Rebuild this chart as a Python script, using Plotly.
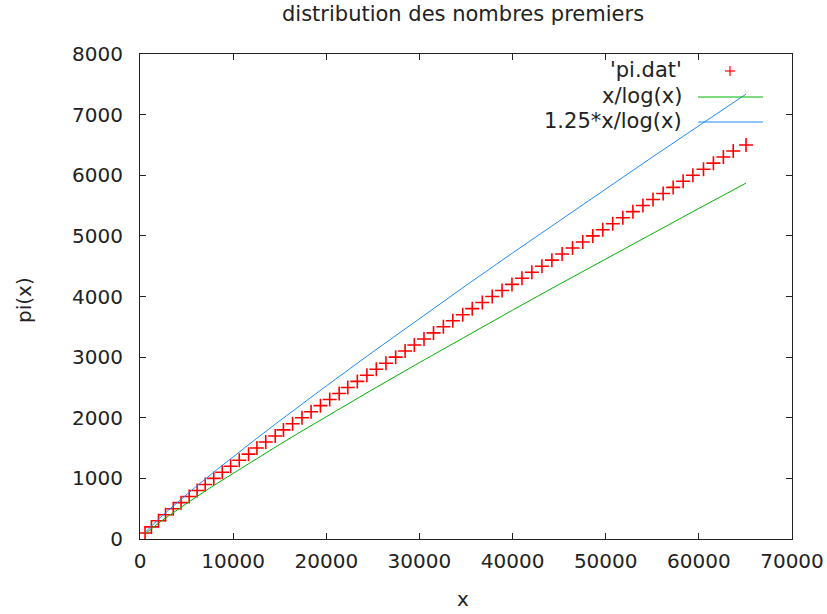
import plotly.graph_objects as go

# 'pi.dat' : (x, pi(x)) points
pi_x = [541, 1223, 1987, 2741, 3571, 4409, 5279, 6133, 6997, 7919,
        8831, 9733, 10657, 11657, 12553, 13499, 14519, 15401, 16381, 17389,
        18367, 19373, 20369, 21383, 22307, 23333, 24359, 25373, 26407, 27449,
        28463, 29453, 30491, 31511, 32573, 33587, 34649, 35671, 36749, 37813,
        38873, 39937, 41011, 42073, 43151, 44221, 45319, 46441, 47533, 48611,
        49681, 50753, 51839, 52919, 53993, 55079, 56167, 57241, 58313, 59359,
        60497, 61561, 62633, 63689, 65063]
pi_y = [100, 200, 300, 400, 500, 600, 700, 800, 900, 1000,
        1100, 1200, 1300, 1400, 1500, 1600, 1700, 1800, 1900, 2000,
        2100, 2200, 2300, 2400, 2500, 2600, 2700, 2800, 2900, 3000,
        3100, 3200, 3300, 3400, 3500, 3600, 3700, 3800, 3900, 4000,
        4100, 4200, 4300, 4400, 4500, 4600, 4700, 4800, 4900, 5000,
        5100, 5200, 5300, 5400, 5500, 5600, 5700, 5800, 5900, 6000,
        6100, 6200, 6300, 6400, 6500]

# curves x/log(x) and 1.25*x/log(x)
curve_x = [541, 1000, 2000, 3000, 4000, 5000, 6000, 8000, 10000, 12500,
           15000, 17500, 20000, 25000, 30000, 35000, 40000, 45000, 50000,
           55000, 60000, 65063]
xlog_y = [86.0, 144.8, 263.1, 374.7, 482.3, 587.0, 689.7, 890.2, 1085.7, 1325.1,
          1559.9, 1791.2, 2019.5, 2468.7, 2910.1, 3345.1, 3774.8, 4199.9, 4621.2,
          5038.9, 5453.5, 5870.4]
xlog125_y = [107.5, 181.0, 328.9, 468.4, 602.9, 733.8, 862.1, 1112.8, 1357.1, 1656.4,
             1949.9, 2239.0, 2524.4, 3085.9, 3637.6, 4181.4, 4718.5, 5249.9, 5776.5,
             6298.6, 6816.9, 7338.0]

x_ticks = [0, 10000, 20000, 30000, 40000, 50000, 60000, 70000]
y_ticks = [0, 1000, 2000, 3000, 4000, 5000, 6000, 7000, 8000]

labels = ["'pi.dat'", "x/log(x)", "1.25*x/log(x)"]

RED = "#ff0000"
GREEN = "#00b400"
BLUE = "#1e8cff"
FONT = "DejaVu Sans"
TXT = "#222222"

W, H = 827, 614
# plot area in page pixels: x 140..792, y 54..539
L, T = 140, 54
R = W - 792
B = H - 539
pw, ph = W - L - R, H - T - B


def px_x(p):
    return (p - L) / pw


def px_y(p):
    return (H - B - p) / ph


fig = go.Figure()
fig.add_trace(go.Scatter(x=pi_x, y=pi_y, mode="markers", name=labels[0],
                         marker=dict(symbol="cross-thin", size=10,
                                     line=dict(color=RED, width=1.6), color=RED)))
fig.add_trace(go.Scatter(x=curve_x, y=xlog_y, mode="lines", name=labels[1],
                         line=dict(color=GREEN, width=1)))
fig.add_trace(go.Scatter(x=curve_x, y=xlog125_y, mode="lines", name=labels[2],
                         line=dict(color=BLUE, width=1)))

annotations = [
    dict(text="distribution des nombres premiers", xref="paper", yref="paper",
         x=px_x(463), y=px_y(14), showarrow=False, xanchor="center", yanchor="middle",
         font=dict(family=FONT, size=21, color=TXT)),
    dict(text="x", xref="paper", yref="paper", x=px_x(463), y=px_y(599),
         showarrow=False, xanchor="center", yanchor="middle",
         font=dict(family=FONT, size=20, color=TXT)),
    dict(text="pi(x)", xref="paper", yref="paper", x=px_x(24), y=px_y(300),
         showarrow=False, xanchor="center", yanchor="middle", textangle=-90,
         font=dict(family=FONT, size=20, color=TXT)),
]
legend_y = [70, 96, 121]
for lab, yy in zip(labels, legend_y):
    annotations.append(dict(text=lab, xref="paper", yref="paper", x=px_x(684), y=px_y(yy),
                            showarrow=False, xanchor="right", yanchor="middle",
                            font=dict(family=FONT, size=21, color=TXT)))
shapes = [
    dict(type="line", xref="paper", yref="paper", x0=px_x(698), x1=px_x(763),
         y0=px_y(97), y1=px_y(97), line=dict(color=GREEN, width=1)),
    dict(type="line", xref="paper", yref="paper", x0=px_x(698), x1=px_x(763),
         y0=px_y(122), y1=px_y(122), line=dict(color=BLUE, width=1)),
    dict(type="line", xref="paper", yref="paper", x0=px_x(725), x1=px_x(735),
         y0=px_y(71), y1=px_y(71), line=dict(color=RED, width=1.2)),
    dict(type="line", xref="paper", yref="paper", x0=px_x(730), x1=px_x(730),
         y0=px_y(66), y1=px_y(76), line=dict(color=RED, width=1.2)),
]

axis_common = dict(showgrid=False, zeroline=False, showline=True, linecolor=TXT,
                   linewidth=1, mirror="ticks", ticks="inside", ticklen=6,
                   tickcolor=TXT, tickwidth=1, automargin=False,
                   tickfont=dict(family=FONT, size=20, color=TXT))

fig.update_layout(
    width=W, height=H, autosize=False,
    margin=dict(l=L, r=R, t=T, b=B, autoexpand=False),
    paper_bgcolor="white", plot_bgcolor="white",
    showlegend=False,
    xaxis=dict(range=[0, 70000], tickvals=x_ticks, ticktext=[str(v) for v in x_ticks],
               ticklabelstandoff=4, **axis_common),
    yaxis=dict(range=[0, 8000], tickvals=y_ticks, ticktext=[str(v) for v in y_ticks],
               ticklabelstandoff=12, **axis_common),
    annotations=annotations,
    shapes=shapes,
)

fig.write_html("out.html",
               config={"displayModeBar": False, "responsive": False},
               post_script="document.body.style.margin='0';document.body.style.padding='0';"
                           "document.body.style.overflow='hidden';")
